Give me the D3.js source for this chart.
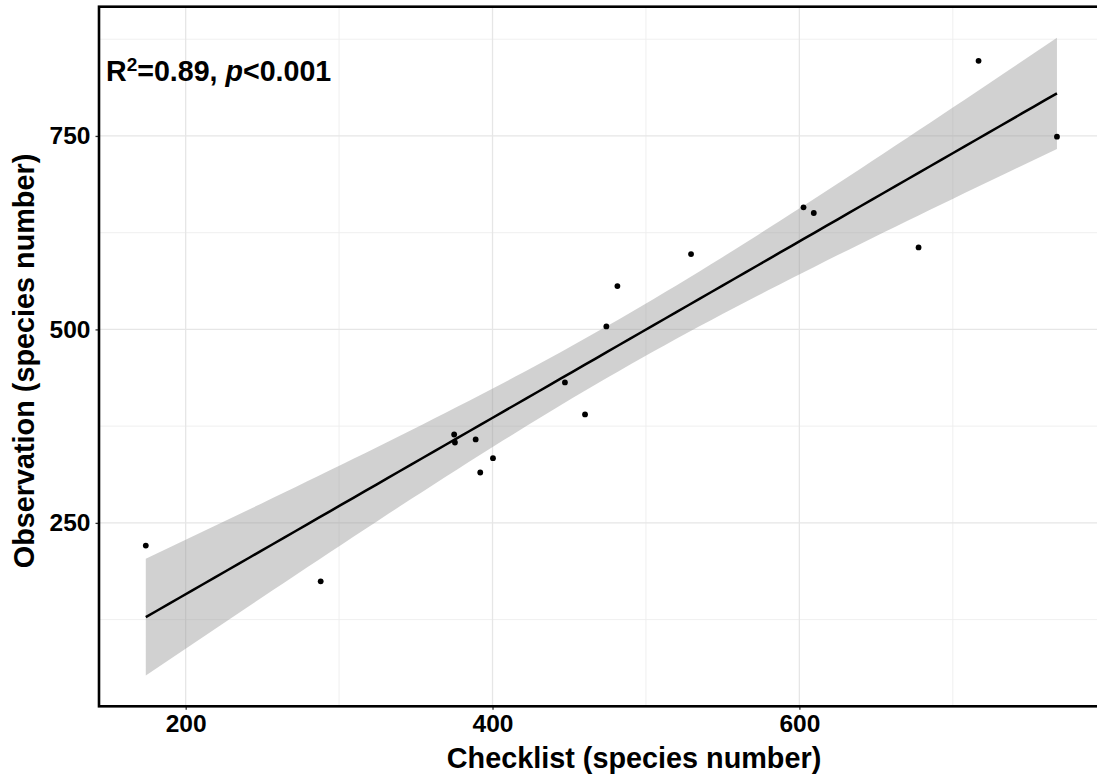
<!DOCTYPE html>
<html>
<head>
<meta charset="utf-8">
<script src="https://cdn.jsdelivr.net/npm/d3@7/dist/d3.min.js"></script>
<style>
  html, body { margin: 0; padding: 0; background: #fff; }
  svg { display: block; font-family: "Liberation Sans", Arial, sans-serif; }
</style>
</head>
<body>
<svg id="chart" width="1097" height="783"></svg>
<script>
// ---- data ----
const checklist   = [174, 288, 375, 375.5, 389, 400.3, 392, 460.3, 447.2, 474.2, 481.4, 529.4, 602.7, 609.4, 677.7, 716.8, 767.9];
const observation = [220.7, 174.5, 364.2, 353.9, 357.8, 333.6, 315.1, 390.1, 431.5, 503.9, 556.0, 597.4, 657.8, 650.4, 606.0, 847.0, 749.1];
const xTicks = [200, 400, 600];
const yTicks = [250, 500, 750];
const xMinor = [300, 500, 700];
const yMinor = [125, 375, 625, 875];
const xTitle = "Checklist (species number)";
const yTitle = "Observation (species number)";
const tCrit = 2.131; // qt(0.975, df = 15)

// ---- layout ----
const svg = d3.select("#chart");
const L = 99, T = 6.7, B = 706.3, R = 1097;
const x = d3.scaleLinear().domain([143.5, 794]).range([L, R]);
const y = d3.scaleLinear().domain([13, 917]).range([B, T]);

// ---- linear model with confidence band ----
const n = checklist.length;
const mx = d3.mean(checklist), my = d3.mean(observation);
let sxx = 0, sxy = 0;
for (let i = 0; i < n; i++) {
  sxx += (checklist[i] - mx) ** 2;
  sxy += (checklist[i] - mx) * (observation[i] - my);
}
const slope = sxy / sxx, intercept = my - slope * mx;
let sse = 0;
for (let i = 0; i < n; i++) sse += (observation[i] - (intercept + slope * checklist[i])) ** 2;
const s = Math.sqrt(sse / (n - 2));
const [x0, x1] = d3.extent(checklist);
const fit = d3.range(80).map(i => {
  const xv = x0 + (x1 - x0) * i / 79;
  const yv = intercept + slope * xv;
  const se = s * Math.sqrt(1 / n + (xv - mx) ** 2 / sxx);
  return { x: xv, y: yv, lo: yv - tCrit * se, hi: yv + tCrit * se };
});

// ---- grid ----
const grid = svg.append("g");
grid.selectAll(".xm").data(xMinor).join("line")
  .attr("x1", d => x(d)).attr("x2", d => x(d)).attr("y1", T).attr("y2", B)
  .attr("stroke", "#ededed").attr("stroke-width", 0.9);
grid.selectAll(".ym").data(yMinor).join("line")
  .attr("y1", d => y(d)).attr("y2", d => y(d)).attr("x1", L).attr("x2", R)
  .attr("stroke", "#ededed").attr("stroke-width", 0.9);
grid.selectAll(".xM").data(xTicks).join("line")
  .attr("x1", d => x(d)).attr("x2", d => x(d)).attr("y1", T).attr("y2", B)
  .attr("stroke", "#e6e6e6").attr("stroke-width", 1.3);
grid.selectAll(".yM").data(yTicks).join("line")
  .attr("y1", d => y(d)).attr("y2", d => y(d)).attr("x1", L).attr("x2", R)
  .attr("stroke", "#e6e6e6").attr("stroke-width", 1.3);

// ---- band, line, points ----
svg.append("path").datum(fit)
  .attr("d", d3.area().x(d => x(d.x)).y0(d => y(d.lo)).y1(d => y(d.hi)))
  .attr("fill", "#999999").attr("fill-opacity", 0.45);
svg.append("path").datum(fit)
  .attr("d", d3.line().x(d => x(d.x)).y(d => y(d.y)))
  .attr("fill", "none").attr("stroke", "#000").attr("stroke-width", 2.5);
svg.append("g").selectAll("circle").data(checklist).join("circle")
  .attr("cx", d => x(d)).attr("cy", (d, i) => y(observation[i]))
  .attr("r", 2.9).attr("fill", "#000");

// ---- axes ----
const xAxis = svg.append("g").attr("transform", `translate(0,${B})`)
  .call(d3.axisBottom(x).tickValues(xTicks).tickSize(3.5).tickPadding(5).tickFormat(d3.format("d")));
const yAxis = svg.append("g").attr("transform", `translate(${L},0)`)
  .call(d3.axisLeft(y).tickValues(yTicks).tickSize(3.5).tickPadding(5).tickFormat(d3.format("d")));
[xAxis, yAxis].forEach(g => {
  g.select(".domain").remove();
  g.selectAll(".tick line").attr("stroke", "#333").attr("stroke-width", 1.3);
  g.selectAll(".tick text").attr("fill", "#000").attr("font-size", 24.5).attr("font-weight", "bold")
    .attr("font-family", "'Liberation Sans', Arial, sans-serif");
});

// ---- panel border ----
svg.append("rect").attr("x", L).attr("y", T).attr("width", R - L + 20).attr("height", B - T)
  .attr("fill", "none").attr("stroke", "#000").attr("stroke-width", 2.6);

// ---- titles ----
svg.append("text").attr("x", 634).attr("y", 767.5).attr("text-anchor", "middle")
  .attr("font-size", 28.8).attr("font-weight", "bold").text(xTitle);
svg.append("text").attr("transform", "translate(34.3,361) rotate(-90)").attr("text-anchor", "middle")
  .attr("font-size", 28.8).attr("font-weight", "bold").text(yTitle);

// ---- annotation ----
const ann = svg.append("text").attr("x", 106).attr("y", 81)
  .attr("font-size", 28.6).attr("font-weight", "bold");
ann.append("tspan").text("R");
ann.append("tspan").attr("font-size", 19).attr("dy", -10).text("2");
ann.append("tspan").attr("dy", 10).text("=0.89, ");
ann.append("tspan").attr("font-style", "italic").text("p");
ann.append("tspan").text("<0.001");
</script>
</body>
</html>
